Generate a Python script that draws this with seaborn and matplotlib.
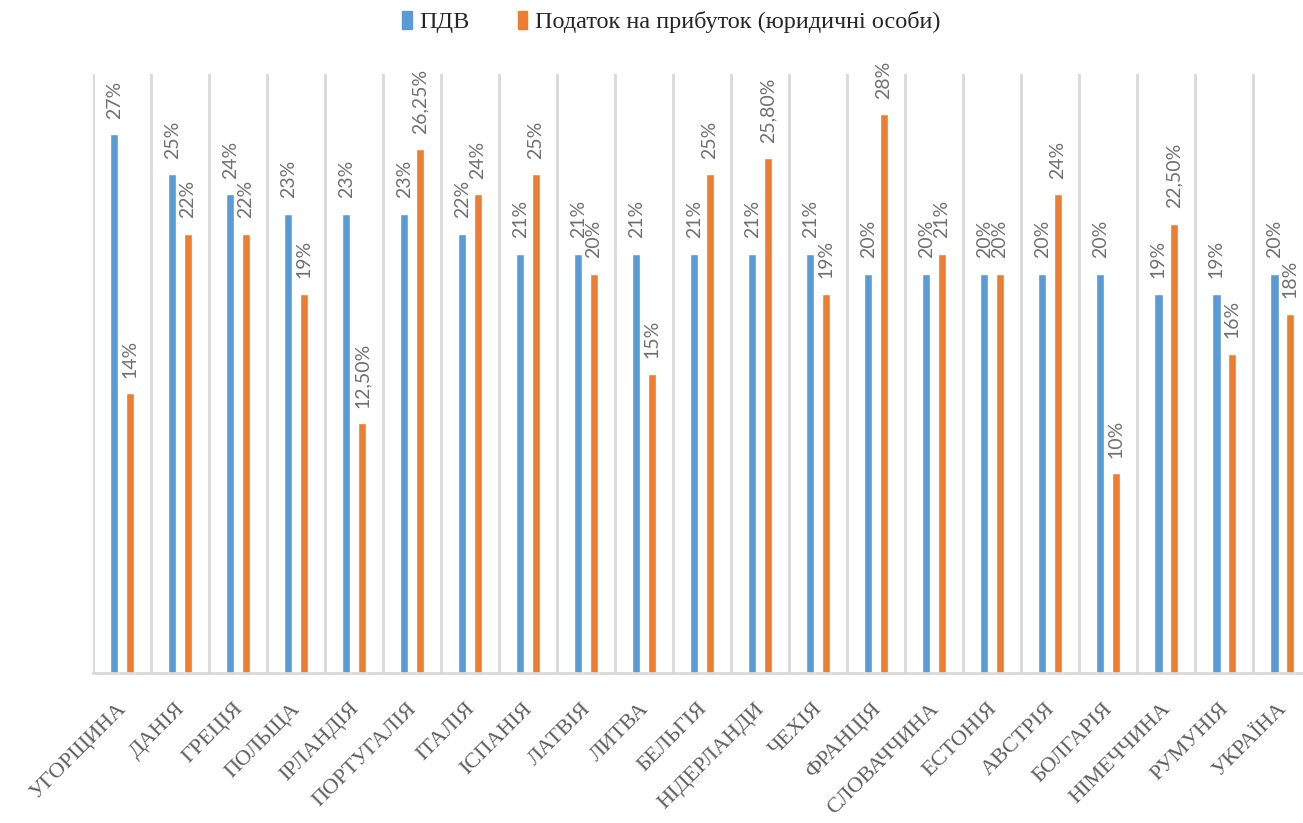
import matplotlib
matplotlib.use("Agg")
import matplotlib.pyplot as plt
import matplotlib.transforms as mtransforms
import seaborn as sns
import pandas as pd

countries = ["УГОРЩИНА", "ДАНІЯ", "ГРЕЦІЯ", "ПОЛЬЩА", "ІРЛАНДІЯ", "ПОРТУГАЛІЯ",
             "ІТАЛІЯ", "ІСПАНІЯ", "ЛАТВІЯ", "ЛИТВА", "БЕЛЬГІЯ", "НІДЕРЛАНДИ",
             "ЧЕХІЯ", "ФРАНЦІЯ", "СЛОВАЧЧИНА", "ЕСТОНІЯ", "АВСТРІЯ", "БОЛГАРІЯ",
             "НІМЕЧЧИНА", "РУМУНІЯ", "УКРАЇНА"]
vat = [27, 25, 24, 23, 23, 23, 22, 21, 21, 21, 21, 21, 21, 20, 20, 20, 20, 20, 19, 19, 20]
profit_tax = [14, 22, 22, 19, 12.5, 26.25, 24, 25, 20, 15, 25, 25.8, 19, 28, 21, 20, 24, 10, 22.5, 16, 18]
series_names = ["ПДВ", "Податок на прибуток (юридичні особи)"]
palette = ["#5B9BD5", "#ED7D31"]


def fmt(v):
    if float(v).is_integer():
        return f"{int(v)}%"
    return f"{v:.2f}%".replace(".", ",")


df = pd.DataFrame({
    "country": countries * 2,
    "value": vat + profit_tax,
    "series": [series_names[0]] * len(countries) + [series_names[1]] * len(countries),
})

sns.set_theme(style="white")
plt.rcParams["font.family"] = ["DejaVu Sans"]

fig = plt.figure(figsize=(13.03, 8.23), dpi=100)
ax = fig.add_axes([93 / 1303, 1 - 673 / 823, 1 - 93 / 1303, (673 - 74) / 823])

sns.barplot(data=df, x="country", y="value", hue="series", palette=palette,
            width=0.54, gap=0.46, saturation=1, ax=ax, legend=False, errorbar=None)

ax.set_ylim(0, 30)
ax.set_xlim(-0.5, 20.36)

# category separators
for i in range(len(countries) + 1):
    ax.axvline(i - 0.5, color="#d9d9d9", lw=2, zorder=0)

for s in ["top", "right", "left"]:
    ax.spines[s].set_visible(False)
ax.spines["bottom"].set_color("#d9d9d9")
ax.spines["bottom"].set_linewidth(2)
ax.set_yticks([])
ax.set_xlabel("")
ax.set_ylabel("")

# value labels above bars
for container, vals in zip(ax.containers, [vat, profit_tax]):
    for bar, v in zip(container, vals):
        ax.annotate(fmt(v), (bar.get_x() + bar.get_width() / 2, bar.get_height()),
                    xytext=(0, 11), textcoords="offset points", rotation=90,
                    ha="center", va="bottom", fontsize=14, color="#707070",
                    family=["Lato", "DejaVu Sans"], clip_on=False)

ax.set_xticks(range(len(countries)))
ax.set_xticklabels(countries, rotation=45, ha="right", va="top", rotation_mode="anchor",
                   family=["Liberation Serif", "DejaVu Serif"], fontsize=16,
                   color="#5f5f5f")
ax.tick_params(axis="x", length=0, pad=19)

# nudge the slanted labels a little to the left
shift = mtransforms.ScaledTranslation(-5 / 100, 0, fig.dpi_scale_trans)
for lbl in ax.get_xticklabels():
    lbl.set_transform(lbl.get_transform() + shift)

handles = [plt.Rectangle((0, 0), 1, 1, color=c) for c in palette]
fig.legend(handles, series_names, loc="center", bbox_to_anchor=(0.515, 1 - 22 / 823),
           ncol=2, frameon=False, handlelength=0.4, handleheight=0.8,
           handletextpad=0.3, columnspacing=2.0,
           prop={"family": ["Liberation Serif", "DejaVu Serif"], "size": 17.5})

fig.savefig("out.png", dpi=100)
